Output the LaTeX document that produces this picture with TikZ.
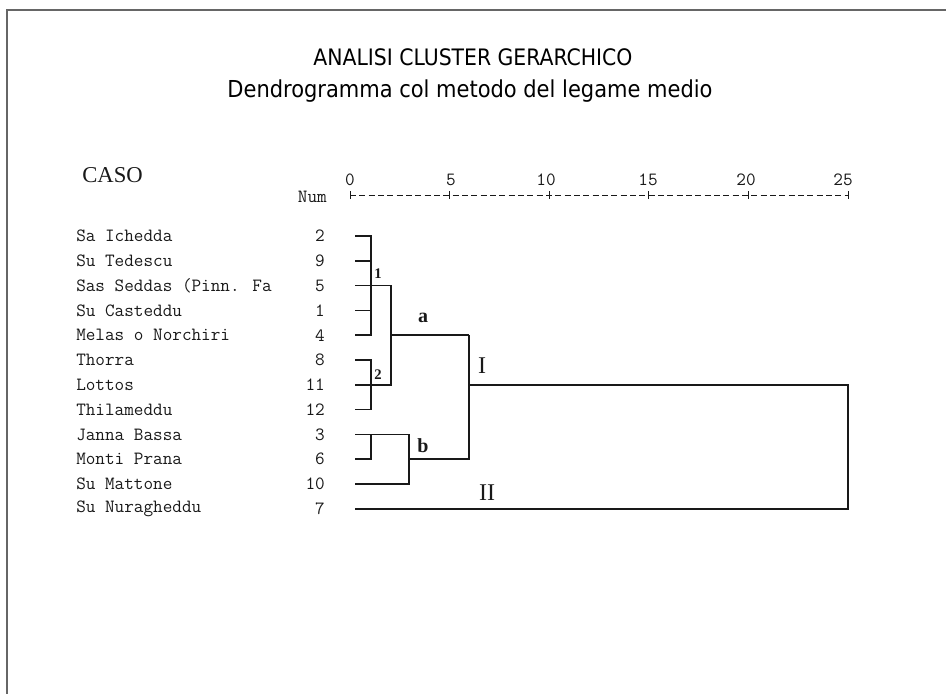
\documentclass[tikz,border=0pt]{standalone}
\usepackage{fontspec}
\usepackage{tikz}
\newfontfamily\titlefont{DejaVu Sans Condensed}
\newfontfamily\casofont{Liberation Serif}
\usetikzlibrary{calc}

\begin{document}
\begin{tikzpicture}[x=0.75pt,y=-0.75pt,
        leaf/.style={anchor=west, inner sep=0pt, text=ink, font=\ttfamily\fontsize{14}{14}\selectfont},
        num/.style={anchor=east, inner sep=0pt, text=ink, font=\ttfamily\fontsize{14}{14}\selectfont},
        scalelab/.style={inner sep=0pt, text=ink, font=\ttfamily\fontsize{14}{14}\selectfont},
        tree/.style={draw=ink, line width=1.1pt},
        ruler/.style={draw=ink, line width=0.6pt, dash pattern=on 4.5pt off 2.5pt},
        tag/.style={inner sep=0pt, text=ink, font=\casofont\bfseries\fontsize{15}{15}\selectfont},
        smalltag/.style={inner sep=0pt, text=ink, font=\casofont\bfseries\fontsize{11}{11}\selectfont},
        bigtag/.style={inner sep=0pt, text=ink, font=\casofont\fontsize{18}{18}\selectfont}]

        % Define colors
        \definecolor{ink}{rgb}{0.1, 0.1, 0.1} % print
        \definecolor{frame}{rgb}{0.4, 0.4, 0.4} % page edge

        % Page size
        \useasboundingbox (0,0) rectangle (946,694);

        % Page edge (top and left only)
        \draw[frame, line width=1.5pt] (946,10) -- (7,10) -- (7,694);

        % Titles
        \node[font=\titlefont\fontsize{17}{17}\selectfont, text=black] (title) at (473,57) {ANALISI CLUSTER GERARCHICO};
        \node[font=\titlefont\fontsize{17.5}{18}\selectfont, text=black] (subtitle) at (470,91) {Dendrogramma col metodo del legame medio};

        % Column heads
        \node[anchor=west, inner sep=0pt, text=ink, font=\casofont\fontsize{17}{17}\selectfont] (caso) at (82,175) {CASO};
        \node[num] (numhead) at (327,197) {Num};

        % Scale
        \coordinate (r0) at (350,195);
        \coordinate (r25) at (848,195);
        \draw[ruler] (r0) -- (r25); % dashed axis
        \draw[ink, line width=0.6pt] (350,191) -- (350,199); % tick 0
        \draw[ink, line width=0.6pt] (449.6,191) -- (449.6,199); % tick 5
        \draw[ink, line width=0.6pt] (549.2,191) -- (549.2,199); % tick 10
        \draw[ink, line width=0.6pt] (648.8,191) -- (648.8,199); % tick 15
        \draw[ink, line width=0.6pt] (748.4,191) -- (748.4,199); % tick 20
        \draw[ink, line width=0.6pt] (848,191) -- (848,199); % tick 25
        \node[scalelab] (s0) at (350,180) {0};
        \node[scalelab] (s5) at (451,180) {5};
        \node[scalelab] (s10) at (546,180) {10};
        \node[scalelab] (s15) at (648,180) {15};
        \node[scalelab] (s20) at (746,180) {20};
        \node[scalelab] (s25) at (843,180) {25};

        % Cases
        \node[leaf] (c2) at (76,236) {Sa Ichedda};
        \node[leaf] (c9) at (76,260.8) {Su Tedescu};
        \node[leaf] (c5) at (76,285.6) {Sas Seddas (Pinn. Fa};
        \node[leaf] (c1) at (76,310.4) {Su Casteddu};
        \node[leaf] (c4) at (76,335.2) {Melas o Norchiri};
        \node[leaf] (c8) at (76,360) {Thorra};
        \node[leaf] (c11) at (76,384.8) {Lottos};
        \node[leaf] (c12) at (76,409.6) {Thilameddu};
        \node[leaf] (c3) at (76,434.4) {Janna Bassa};
        \node[leaf] (c6) at (76,459.2) {Monti Prana};
        \node[leaf] (c10) at (76,484) {Su Mattone};
        \node[leaf] (c7) at (76,508.8) {Su Nuragheddu};

        % Case numbers
        \node[num] (n2) at (325,236) {2};
        \node[num] (n9) at (325,260.8) {9};
        \node[num] (n5) at (325,285.6) {5};
        \node[num] (n1) at (325,310.4) {1};
        \node[num] (n4) at (325,335.2) {4};
        \node[num] (n8) at (325,360) {8};
        \node[num] (n11) at (325,384.8) {11};
        \node[num] (n12) at (325,409.6) {12};
        \node[num] (n3) at (325,434.4) {3};
        \node[num] (n6) at (325,459.2) {6};
        \node[num] (n10) at (325,484) {10};
        \node[num] (n7) at (325,508.8) {7};

        % Leaf ends
        \coordinate (p0) at (355,236);
        \coordinate (p1) at (355,260.8);
        \coordinate (p2) at (355,285.6);
        \coordinate (p3) at (355,310.4);
        \coordinate (p4) at (355,335.2);
        \coordinate (p5) at (355,360);
        \coordinate (p6) at (355,384.8);
        \coordinate (p7) at (355,409.6);
        \coordinate (p8) at (355,434.4);
        \coordinate (p9) at (355,459.2);
        \coordinate (p10) at (355,484);
        \coordinate (p11) at (355,508.8);

        % Joins
        \coordinate (k1) at (371,335.2); % group 1
        \coordinate (k2) at (371,409.6); % group 2
        \coordinate (k3) at (371,459.2); % Janna - Monti
        \coordinate (m12) at (391,384.8); % 1 with 2
        \coordinate (kb) at (409,484); % group b
        \coordinate (ka) at (469,335.2); % a with b
        \coordinate (kI) at (469,459.2);
        \coordinate (kII) at (848,508.8); % I with II

        % Group 1
        \draw[tree] (p0) -| (k1) -- (p4);
        \draw[tree] (p1) -- (p1 -| k1);
        \draw[tree] (p3) -- (p3 -| k1);

        % Group 2
        \draw[tree] (p5) -| (k2) -- (p7);

        % Group a
        \draw[tree] (p2) -| (m12) -- (p6);
        \draw[tree] (p4 -| m12) -- (ka);

        % Group b
        \draw[tree] (p8) -| (kb) -- (p10);
        \draw[tree] (p8 -| k3) -- (k3) -- (p9);

        % Group I
        \draw[tree] (ka) -- (kI) -- (p9 -| kb);

        % Group II
        \draw[tree] (p6 -| ka) -| (kII) -- (p11);

        % Group labels
        \node[smalltag] (t1) at (378,274) {1};
        \node[smalltag] (t2) at (378,375) {2};
        \node[tag] (ta) at (423,318) {a};
        \node[tag] (tb) at (423,446) {b};
        \node[bigtag] (tI) at (482,366) {I};
        \node[bigtag] (tII) at (487,493) {II};

        \end{tikzpicture}
\end{document}
